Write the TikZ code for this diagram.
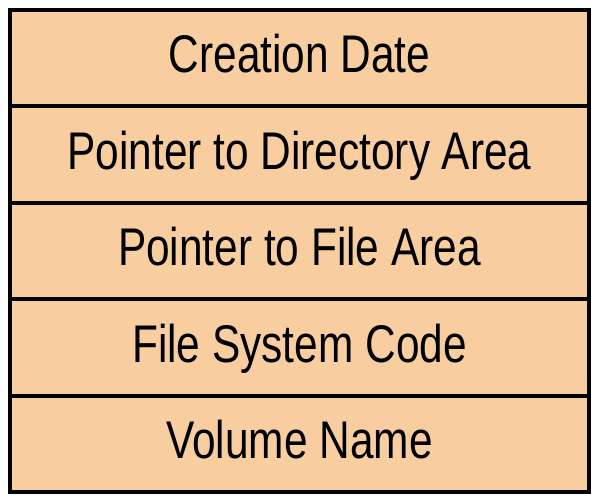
\documentclass[tikz,border=0pt]{standalone}
\usepackage{fontspec}
\setmainfont{Liberation Sans}[FakeStretch=0.8]
\usetikzlibrary{positioning}
\definecolor{peach}{RGB}{248,206,160}
\tikzset{field/.style={draw=black,fill=peach,line width=4pt,rectangle,inner sep=0pt,outer sep=0pt,
  minimum width=579pt,minimum height=96.5pt,text height=38pt,text depth=8pt,
  font=\fontsize{53}{60}\selectfont}}
\begin{document}
\begin{tikzpicture}[x=1pt,y=-1pt]
\useasboundingbox (0,0) rectangle (596,499);

\node[field] (date) at (299.5,57.75) {Creation Date};
\node[field,below=0pt of date] (dirptr) {Pointer to Directory Area};
\node[field,below=0pt of dirptr] (fileptr) {Pointer to File Area};
\node[field,below=0pt of fileptr] (fscode) {File System Code};
\node[field,below=0pt of fscode] (volname) {Volume Name};

\end{tikzpicture}
\end{document}
